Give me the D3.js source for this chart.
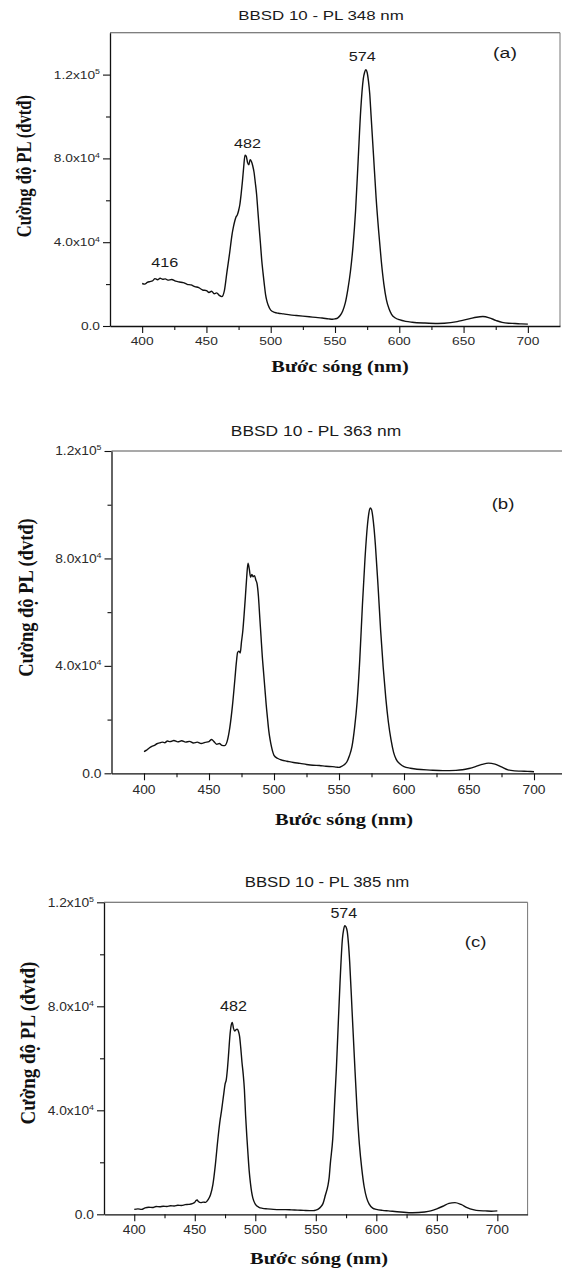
<!DOCTYPE html>
<html>
<head>
<meta charset="utf-8">
<script src="https://cdn.jsdelivr.net/npm/d3@7"></script>
<style>
  html, body { margin: 0; padding: 0; background: #fff; }
  svg { display: block; }
</style>
</head>
<body>
<svg id="fig" width="562" height="1270"></svg>
<script>
// PL spectra of sample BBSD 10 at three excitation wavelengths.
// Intensities are in units of 10^3 (a.u.).

const waveA = [400,402,404,406,408,410,412,414,416,418,420,423,426,429,432,435,438,441,444,447,450,452,454,456,458,460,462,464,466,468,470,471,472,473,474,475,476,477,478,479,480,481,482,483,484,485,486,487,488,489,490,491,492,493,494,495,496,497,498,500,503,506,510,515,520,525,530,535,540,545,548,550,552,554,556,558,560,562,564,566,568,570,572,573,574,575,576,577,578,580,582,584,586,588,590,592,594,597,600,605,610,620,630,640,645,650,655,660,665,670,675,680,685,690,695,700];
const intensityA = [20.3,20.0,20.8,21.2,21.5,22.6,22.1,22.8,22.3,22.5,21.9,22.2,21.4,21.0,20.7,19.9,19.6,18.8,18.3,17.2,16.9,16.0,16.6,15.4,15.8,14.6,14.0,17.0,26.0,34.6,44.0,47.3,50.0,52.0,53.0,55.0,58.0,63.0,69.0,76.0,81.5,81.0,78.0,77.0,79.4,78.5,76.5,73.5,68.5,63.0,55.0,47.0,39.5,31.5,25.5,20.0,15.0,12.0,10.0,7.6,6.5,6.1,5.8,5.3,5.0,4.7,4.4,4.1,3.8,3.4,3.2,3.4,3.8,5.0,7.2,11.0,17.5,26.0,38.0,55.0,79.0,103.0,118.0,121.0,122.3,121.0,117.0,111.0,101.0,81.0,61.0,45.0,31.0,20.0,12.5,8.2,5.6,3.8,3.0,2.2,1.8,1.4,1.2,1.6,2.1,2.8,3.5,4.2,4.5,3.9,2.7,1.7,1.3,1.2,1.0,0.9];

const waveB = [400,402,404,406,408,410,412,414,416,418,420,423,426,429,432,435,438,441,444,447,450,452,454,456,458,460,462,464,466,468,470,471,472,473,474,475,476,477,478,479,480,481,482,483,484,485,486,487,488,489,490,491,492,493,494,495,496,497,498,500,503,506,510,515,520,525,530,535,540,545,548,550,552,554,556,558,560,562,564,566,568,570,572,573,574,575,576,577,578,580,582,584,586,588,590,592,594,597,600,605,610,620,630,640,645,650,655,660,665,670,675,680,685,690,695,700];
const intensityB = [8.1,8.6,9.4,10.0,10.4,11.0,11.3,11.6,11.4,12.0,11.8,12.2,11.7,12.1,11.6,11.9,11.3,11.6,11.1,11.5,11.8,12.6,11.7,10.8,11.1,10.4,10.3,12.0,17.0,25.0,35.5,41.0,45.0,45.5,44.8,49.0,53.0,59.0,65.8,73.0,78.2,76.0,73.0,74.0,73.2,73.6,72.0,70.5,66.0,58.5,51.0,43.5,37.5,31.5,25.5,20.5,15.8,12.5,10.0,6.7,5.5,4.9,4.5,4.0,3.7,3.3,3.0,2.9,2.6,2.5,2.3,2.2,2.6,3.2,4.2,6.5,10.0,17.0,27.0,42.5,62.5,80.0,93.0,97.0,98.8,98.2,95.5,91.0,85.0,70.0,53.4,39.5,28.0,19.0,12.5,7.8,5.2,3.5,2.5,1.9,1.5,1.2,1.0,1.1,1.3,1.8,2.5,3.3,3.8,3.4,2.4,1.3,0.9,0.8,0.7,0.6];

const waveC = [400,403,406,409,412,415,418,421,424,427,430,433,436,439,442,445,448,450,451,452,453,455,457,459,461,463,465,467,469,471,472,473,474,475,476,477,478,479,480,481,482,483,484,485,486,487,488,489,490,491,492,493,494,495,496,497,498,500,503,506,510,515,520,525,530,535,540,545,548,550,552,554,556,558,560,561,562,564,566,567,568,570,572,573,574,575,576,577,578,580,582,584,586,588,590,592,594,597,600,605,610,620,630,640,645,650,655,660,665,670,675,680,685,690,695,700];
const intensityC = [1.9,2.1,1.9,2.5,2.7,2.6,3.0,2.9,3.1,3.0,3.3,3.2,3.5,3.4,3.7,3.8,4.1,4.6,5.3,5.5,4.9,4.5,4.7,4.6,5.6,7.5,11.5,19.0,28.5,36.5,39.5,43.0,46.5,50.0,51.7,56.0,62.0,68.5,72.5,73.8,71.5,70.5,71.0,71.2,70.5,68.5,64.0,58.5,54.0,48.0,38.0,30.0,23.0,16.5,12.0,8.5,6.2,3.9,2.7,2.3,2.1,1.9,1.8,1.8,1.7,1.6,1.5,1.4,1.4,1.6,2.0,2.8,4.2,7.5,11.0,14.0,19.5,29.0,47.0,56.0,67.0,89.0,106.0,109.5,111.0,110.5,108.7,104.0,97.0,78.0,59.0,41.0,27.0,17.5,10.5,6.3,4.0,2.4,1.9,1.5,1.3,0.9,0.6,0.9,1.3,2.1,3.1,4.2,4.5,3.8,2.6,1.8,1.4,1.3,1.2,1.3];

const xTickValues = [400, 450, 500, 550, 600, 650, 700];
const xMinorTicks = [425, 475, 525, 575, 625, 675];
const yTickValues = [0, 40, 80, 120];
const yMinorTicks = [20, 60, 100];
const yTickLabels = ["0.0", "4.0x10^4", "8.0x10^4", "1.2x10^5"];

const titles = ["BBSD 10 - PL 348 nm", "BBSD 10 - PL 363 nm", "BBSD 10 - PL 385 nm"];
const panelTags = ["(a)", "(b)", "(c)"];
const peakLabelsA = [416, 482, 574];
const peakLabelsB = [];
const peakLabelsC = [482, 574];
const xAxisTitle = "Bước sóng (nm)";
const yAxisTitle = "Cường độ PL (đvtđ)";

const SANS = "'Liberation Sans', Arial, sans-serif";
const SERIF = "'Liberation Serif', 'Times New Roman', serif";

// Each panel is placed and sized separately (the three figures differ slightly in scale).
const panels = [
  { wave: waveA, val: intensityA, peaks: peakLabelsA, yMax: 140,
    left: 110, right: 560, top: 32.7, bottom: 326, rightBorder: true,
    title: [321, 15, 13, 1.3], tag: [505, 53, 15, 1.3],
    tick: [11, 1.25], xTickY: 341, xTitle: [340, 366, 16, 1.27], yTitle: [24, 166, 16.6, 1.2],
    peakFont: [13.5, 1.2], peakOffset: { 416: [2, -16], 482: [0, -12.5], 574: [-3.5, -14] } },
  { wave: waveB, val: intensityB, peaks: peakLabelsB, yMax: 120,
    left: 111.5, right: 566.5, top: 451, bottom: 773.3, rightBorder: true,
    title: [316, 431, 14.5, 1.2], tag: [503, 503, 15.5, 1.2],
    tick: [12, 1.15], xTickY: 790, xTitle: [344, 819, 17, 1.2], yTitle: [25, 597.5, 18.5, 1.15],
    peakFont: [14, 1.15], peakOffset: {} },
  { wave: waveC, val: intensityC, peaks: peakLabelsC, yMax: 120,
    left: 104, right: 527.6, top: 902.3, bottom: 1214.3, rightBorder: true,
    title: [327, 881.7, 14, 1.2], tag: [475.6, 941.7, 15.5, 1.2],
    tick: [12, 1.15], xTickY: 1230, xTitle: [319, 1258, 17, 1.2], yTitle: [27, 1043, 19, 1.15],
    peakFont: [14, 1.15], peakOffset: { 482: [0, -16.7], 574: [-1, -12.4] } }
];

const svg = d3.select("#fig");
svg.append("rect").attr("width", 562).attr("height", 1270).attr("fill", "#fff");

// Text with a horizontal stretch factor, positioned by its vertical centre.
function label(g, x, y, str, size, sx, opts = {}) {
  const t = g.append("text")
    .attr("transform", `translate(${x},${y}) scale(${sx},1)` + (opts.rotate ? ` rotate(${opts.rotate})` : ""))
    .attr("text-anchor", opts.anchor || "middle")
    .attr("dy", (0.36 * size).toFixed(2))
    .attr("fill", opts.fill || "#1a1a1a")
    .style("font-family", opts.family || SANS)
    .style("font-size", size + "px")
    .style("font-weight", opts.weight || "normal");
  const parts = str.split("^");
  t.append("tspan").text(parts[0]);
  if (parts[1]) {
    t.append("tspan").attr("dy", (-0.42 * size).toFixed(2))
      .style("font-size", (0.64 * size) + "px").text(parts[1]);
  }
  return t;
}

panels.forEach((p, i) => {
  const g = svg.append("g");
  const x = d3.scaleLinear().domain([375, 725]).range([p.left, p.right]);
  const y = d3.scaleLinear().domain([0, p.yMax]).range([p.bottom, p.top]);

  // frame: top and right edges in grey
  g.append("line").attr("x1", p.left).attr("x2", p.right).attr("y1", p.top).attr("y2", p.top)
    .attr("stroke", "#555").attr("stroke-width", 1.1);
  if (p.rightBorder) {
    g.append("line").attr("x1", p.right).attr("x2", p.right).attr("y1", p.top).attr("y2", p.bottom)
      .attr("stroke", "#777").attr("stroke-width", 1);
  }

  // spectrum
  const pts = p.wave.map((w, k) => [w, p.val[k]]);
  const line = d3.line().x(d => x(d[0])).y(d => y(d[1])).curve(d3.curveMonotoneX);
  g.append("path").datum(pts).attr("d", line)
    .attr("fill", "none").attr("stroke", "#111").attr("stroke-width", 1.4)
    .attr("stroke-linejoin", "round");

  // axes
  const styleAxis = sel => {
    sel.selectAll("path.domain").attr("stroke", "#111").attr("stroke-width", 1.3);
    sel.selectAll(".tick line").attr("stroke", "#111").attr("stroke-width", 1.1);
  };
  g.append("g").attr("transform", `translate(0,${p.bottom})`)
    .call(d3.axisBottom(x).tickValues(xTickValues).tickSize(7).tickSizeOuter(0).tickFormat(""))
    .call(styleAxis);
  g.append("g").attr("transform", `translate(0,${p.bottom})`)
    .call(d3.axisBottom(x).tickValues(xMinorTicks).tickSize(4).tickSizeOuter(0).tickFormat(""))
    .call(styleAxis).call(s => s.select("path.domain").remove());
  g.append("g").attr("transform", `translate(${p.left},0)`)
    .call(d3.axisLeft(y).tickValues(yTickValues).tickSize(7).tickSizeOuter(0).tickFormat(""))
    .call(styleAxis);
  g.append("g").attr("transform", `translate(${p.left},0)`)
    .call(d3.axisLeft(y).tickValues(yMinorTicks).tickSize(4).tickSizeOuter(0).tickFormat(""))
    .call(styleAxis).call(s => s.select("path.domain").remove());

  // tick labels
  xTickValues.forEach(v => label(g, x(v), p.xTickY, String(v), p.tick[0], p.tick[1], { fill: "#2a2a2a" }));
  yTickValues.forEach((v, k) => label(g, p.left - 10, y(v), yTickLabels[k], p.tick[0], p.tick[1], { anchor: "end", fill: "#2a2a2a" }));

  // titles
  label(g, p.title[0], p.title[1], titles[i], p.title[2], p.title[3]);
  label(g, p.tag[0], p.tag[1], panelTags[i], p.tag[2], p.tag[3]);
  label(g, p.xTitle[0], p.xTitle[1], xAxisTitle, p.xTitle[2], p.xTitle[3], { family: SERIF, weight: "bold", fill: "#111" });
  label(g, p.yTitle[0], p.yTitle[1], yAxisTitle, p.yTitle[2], p.yTitle[3], { family: SERIF, weight: "bold", fill: "#111", rotate: -90 });

  // peak wavelength labels, placed above the local maximum of the spectrum
  p.peaks.forEach(nm => {
    const near = pts.filter(d => Math.abs(d[0] - nm) <= 3);
    const top = d3.max(near, d => d[1]);
    const off = p.peakOffset[nm] || [0, -14];
    label(g, x(nm) + off[0], y(top) + off[1], String(nm), p.peakFont[0], p.peakFont[1]);
  });
});
</script>
</body>
</html>
